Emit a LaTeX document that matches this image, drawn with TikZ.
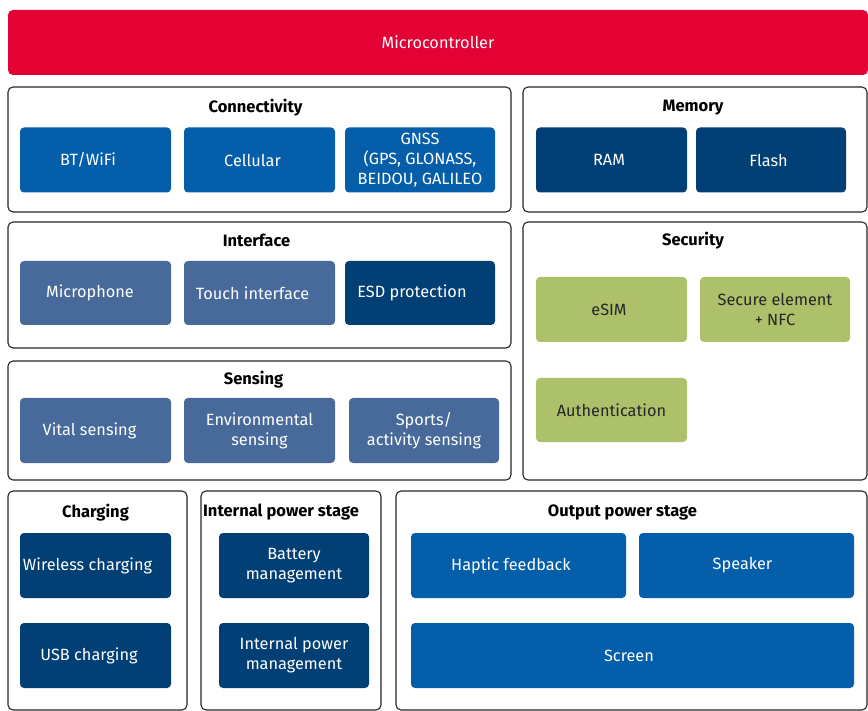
\documentclass[tikz,border=0pt]{standalone}
\usepackage{fontspec}
\setmainfont{Fira Sans}
\usepackage{tikz}
\usetikzlibrary{calc,positioning}
\definecolor{mcured}{HTML}{E40134}
\definecolor{blue}{HTML}{055EAA}
\definecolor{navy}{HTML}{013F75}
\definecolor{steel}{HTML}{476A9B}
\definecolor{lime}{HTML}{ADC16B}
\definecolor{frame}{HTML}{262626}
\tikzset{
  group/.style={draw=frame, line width=1.1pt, rounded corners=5pt, fill=white},
  grouptitle/.style={font=\fontsize{16.5}{20}\selectfont\bfseries, text=black, inner sep=0pt},
  part/.style={rounded corners=4pt, align=center, text=white, inner sep=2pt,
    minimum width=151pt, minimum height=65pt, font=\fontsize{16.3}{20}\selectfont},
  pull/.style={execute at begin node={\hspace*{-#1pt}}},
  wlan/.style={part, fill=blue},
  store/.style={part, fill=navy},
  sense/.style={part, fill=steel},
  secure/.style={part, fill=lime, text=black!85}
}
\begin{document}
\begin{tikzpicture}[x=1pt,y=-1pt]
  \useasboundingbox (0,0) rectangle (868,711);

  \node[part, fill=mcured, minimum width=860pt, rounded corners=5pt] (mcu) at (438,42.5) {Microcontroller};

  % connectivity and memory
  \node[group, minimum width=503pt, minimum height=125pt] (conn) at (259.5,149.5) {};
  \node[grouptitle] at ($(conn.north)+(-4,21)$) {Connectivity};
  \node[wlan, pull=15] (bt) at (95.5,160) {BT/WiFi};
  \node[wlan, pull=14] (cell) at (259.5,160) {Cellular};
  \node[wlan, minimum width=150pt] (gnss) at (420,160) {GNSS\\(GPS, GLONASS,\\BEIDOU, GALILEO};

  \node[group, minimum width=344pt, minimum height=125pt] (mem) at (695,149.5) {};
  \node[grouptitle] at ($(mem.north)+(-2,21)$) {Memory};
  \node[store, pull=5] (ram) at (611.5,160) {RAM};
  \node[store, minimum width=150pt, pull=5] (flash) at (771,160) {Flash};

  % interface and sensing
  \node[group, minimum width=503pt, minimum height=126pt] (iface) at (259.5,285) {};
  \node[grouptitle] at ($(iface.north)+(-3,19)$) {Interface};
  \node[sense, minimum height=64pt, pull=11] (mic) at (95.5,293) {Microphone};
  \node[sense, minimum height=64pt, pull=14] (touch) at (259.5,293) {Touch interface};
  \node[store, minimum height=64pt, minimum width=150pt, pull=16] (esd) at (420,293) {ESD protection};

  \node[group, minimum width=503pt, minimum height=119pt] (sens) at (259.5,420.5) {};
  \node[grouptitle] at ($(sens.north)+(-6,19)$) {Sensing};
  \node[sense, pull=12] (vital) at (95.5,430.5) {Vital sensing};
  \node[sense] (env) at (259.5,430.5) {Environmental\\sensing};
  \node[sense, minimum width=150pt] (sport) at (424,430.5) {Sports/\\activity sensing};

  % security
  \node[group, minimum width=344pt, minimum height=258pt] (sec) at (695,351) {};
  \node[grouptitle] at ($(sec.north)+(-2,19)$) {Security};
  \node[secure, pull=5] (esim) at (611.5,309.5) {eSIM};
  \node[secure, minimum width=150pt] (se) at (775,309.5) {Secure element\\+ NFC};
  \node[secure, minimum height=64pt] (auth) at (611.5,410) {Authentication};

  % power
  \node[group, minimum width=179pt, minimum height=219pt] (chg) at (97.5,600.5) {};
  \node[grouptitle] at ($(chg.north)+(-2,22)$) {Charging};
  \node[store, pull=16] (wless) at (95.5,565.5) {Wireless charging};
  \node[store, pull=13] (usb) at (95.5,655.5) {USB charging};

  \node[group, minimum width=180pt, minimum height=219pt] (ips) at (291,600.5) {};
  \node[grouptitle] at ($(ips.north)+(-10,22)$) {Internal power stage};
  \node[store, minimum width=150pt] (batt) at (294,565.5) {Battery\\management};
  \node[store, minimum width=150pt] (ipm) at (294,655.5) {Internal power\\management};

  \node[group, minimum width=471pt, minimum height=219pt] (ops) at (631.5,600.5) {};
  \node[grouptitle] at ($(ops.north)+(-9,22)$) {Output power stage};
  \node[wlan, minimum width=215pt, pull=15] (haptic) at (518.5,565.5) {Haptic feedback};
  \node[wlan, minimum width=215pt, pull=8] (spk) at (746.5,565.5) {Speaker};
  \node[wlan, minimum width=443pt, pull=7] (screen) at (632.5,655.5) {Screen};
\end{tikzpicture}
\end{document}
